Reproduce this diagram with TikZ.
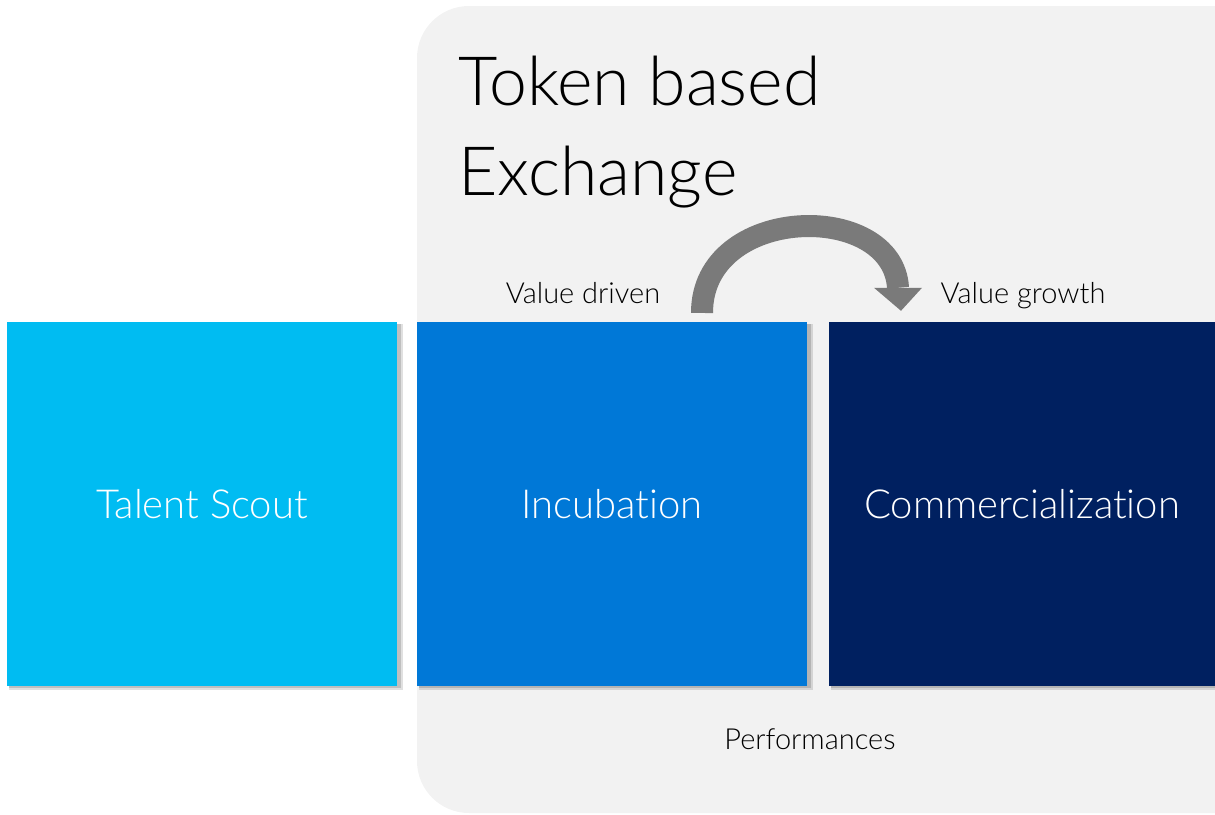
\documentclass[tikz,border=0pt]{standalone}
\usepackage{fontspec}
\setmainfont{Lato Light}[Ligatures={NoCommon}]
\usetikzlibrary{calc}
\definecolor{panel}{HTML}{F2F2F2}
\definecolor{cTalent}{HTML}{00BCF2}
\definecolor{cInc}{HTML}{0078D7}
\definecolor{cCom}{HTML}{002060}
\definecolor{arrowgray}{HTML}{7A7A7A}
\begin{document}
\begin{tikzpicture}[x=1pt,y=-1pt,
  stage/.style={fill=#1, minimum width=390pt, minimum height=364pt, inner sep=0pt, text=white, font=\fontsize{40}{46}\selectfont},
  small/.style={font=\fontsize{29}{33}\selectfont, text=black, inner sep=0pt, anchor=base},
]
\useasboundingbox (0,0) rectangle (1215,814);
% panel
\fill[panel, rounded corners=52pt] (417,6) rectangle (1270,813);
% shadows
\foreach \x/\w in {7/390,417/390,829/390}{
  \fill[black, opacity=0.12] (\x+2,324) rectangle (\x+\w+6,690);
  \fill[black, opacity=0.15] (\x+2,324) rectangle (\x+\w+4,688);
}
\node[stage=cTalent] (talent) at (202,504) {Talent Scout};
\node[stage=cInc] (inc) at (612,504) {Incubation};
\node[stage=cCom, minimum width=400pt] (com) at (1029,504) {};
\node[text=white, font=\fontsize{40}{46}\selectfont, inner sep=0pt] (comtxt) at (1022,504) {Commercialization};
% title
\node[anchor=base west, inner sep=0pt, font=\fontsize{68}{80}\selectfont] (t1) at (458,105) {Token based};
\node[anchor=base west, inner sep=0pt, font=\fontsize{68}{80}\selectfont] (t2) at (458,195) {Exchange};
% labels
\node[small] (vd) at (583,303) {Value driven};
\node[small] (vg) at (1023,303) {Value growth};
\node[small] (perf) at (810,749) {Performances};
% arrow
\coordinate (a0) at ($(inc.north)+(90,-10)$);
\coordinate (a1) at ($(com.north)+(-131,-34)$);
\coordinate (tip) at ($(com.north)+(-128,-11)$);
\draw[arrowgray, line width=22pt] (a0) -- ($(a0)+(0,1)$) .. controls ($(a0)+(0,-108)$) and ($(a1)+(-5,-88)$) .. (a1);
\fill[arrowgray] ($(a1)+(-24,0)$) -- ($(a1)+(24,0)$) -- (tip) -- cycle;
\end{tikzpicture}
\end{document}
